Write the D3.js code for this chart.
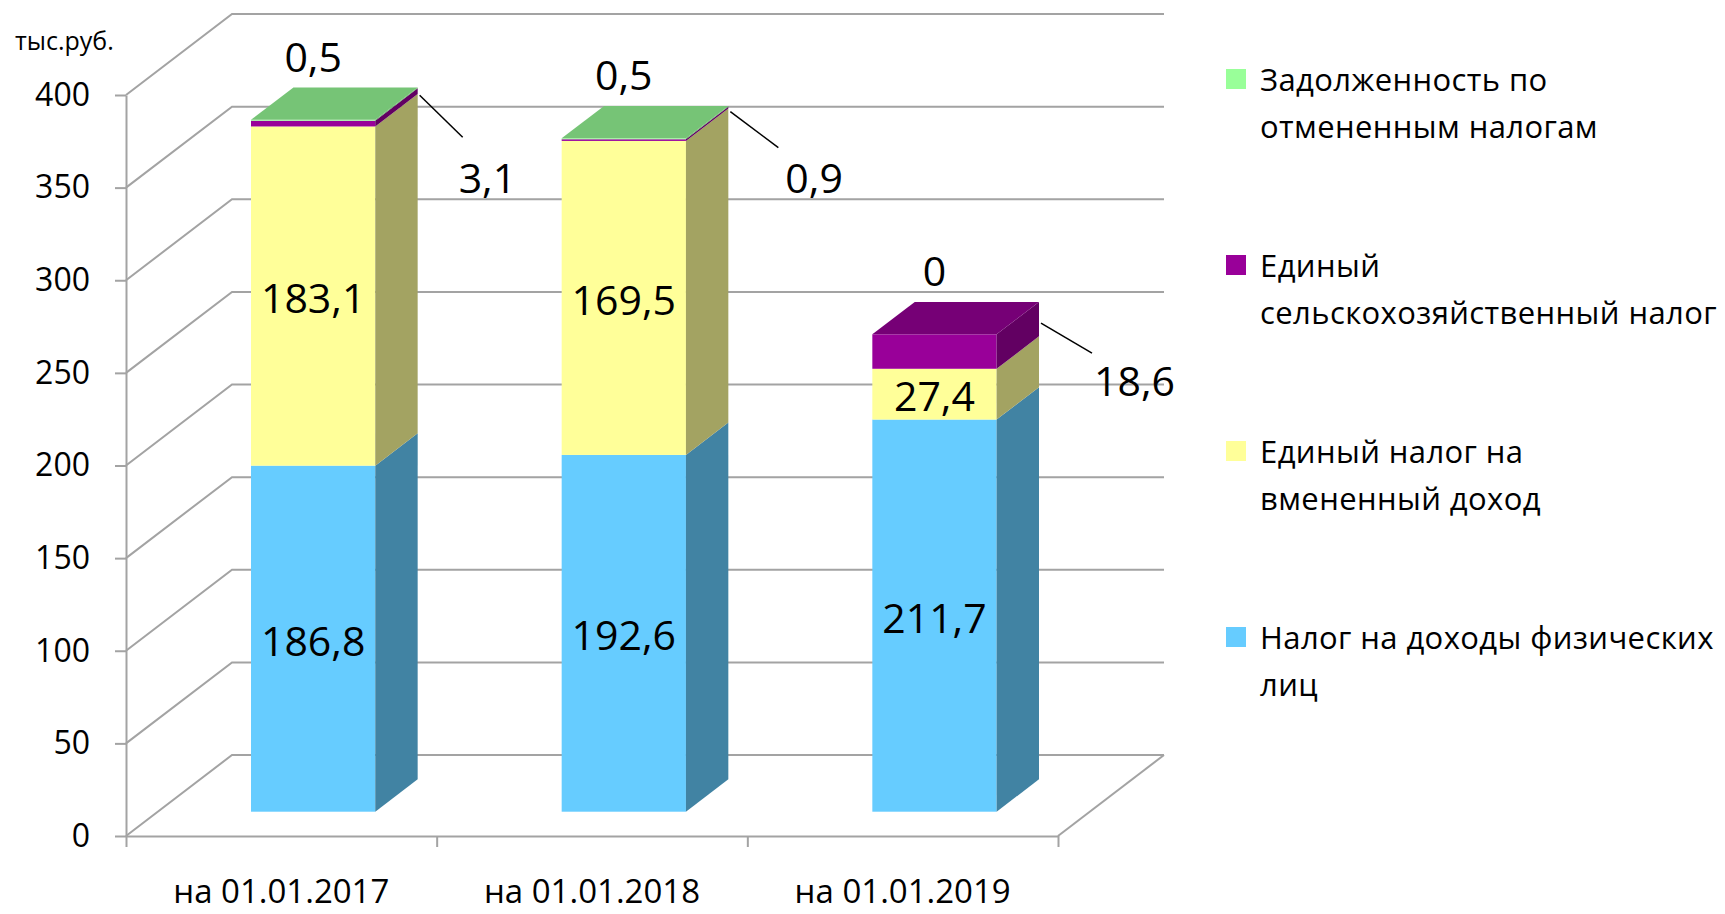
<!DOCTYPE html>
<html>
<head>
<meta charset="utf-8">
<script src="https://cdn.jsdelivr.net/npm/d3@7"></script>
<style>
  body { margin: 0; background: #fff; }
  svg { display: block; font-family: "Open Sans", "DejaVu Sans", sans-serif; }
</style>
</head>
<body>
<svg id="chart" width="1725" height="914"></svg>
<script>
// data
const categories = ["на 01.01.2017", "на 01.01.2018", "на 01.01.2019"];
const seriesKeys = ["ndfl", "envd", "eshn", "debt"];
const ndfl = [186.8, 192.6, 211.7];  // Налог на доходы физических лиц
const envd = [183.1, 169.5, 27.4];   // Единый налог на вмененный доход
const eshn = [3.1, 0.9, 18.6];       // Единый сельскохозяйственный налог
const debt = [0.5, 0.5, 0];          // Задолженность по отмененным налогам
const seriesColors = ["#66ccff", "#ffff99", "#990099", "#99ff99"];
const yTicks = [0, 50, 100, 150, 200, 250, 300, 350, 400];
const unitLabel = "тыс.руб.";
// legend goes top -> bottom in reverse series order
const legendLines = [
	["Задолженность по", "отмененным налогам"],
	["Единый", "сельскохозяйственный налог"],
	["Единый налог на", "вмененный доход"],
	["Налог на доходы физических", "лиц"]
];

const rows = categories.map((c, i) => ({ cat: c, ndfl: ndfl[i], envd: envd[i], eshn: eshn[i], debt: debt[i] }));
const stacked = d3.stack().keys(seriesKeys)(rows);

// layout
const svg = d3.select("#chart");
const y = d3.scaleLinear().domain([0, 400]).range([836, 95]);
const x = d3.scaleBand().domain(categories).range([126, 1058]).paddingInner(0.6).paddingOuter(0.3);
const xEdge = d3.scaleLinear().domain([0, categories.length]).range([126, 1058]);
const depth = [106, -81];             // full wall depth
const fz = 0.3, bz = 0.4;            // bar front position & bar depth (fractions of wall depth)
const fx = depth[0] * fz, fy = depth[1] * fz;
const dx = depth[0] * bz, dy = depth[1] * bz;
const gridColor = "#a3a3a3";

const fmt = v => v === 0 ? "0" : d3.format(".1f")(v).replace(".", ",");
const shade = (c, f) => { const r = d3.rgb(c); return d3.rgb(r.r * f, r.g * f, r.b * f).formatHex(); };

// walls: left wall diagonals + back wall lines
const walls = svg.append("g").attr("fill", "none").attr("stroke", gridColor).attr("stroke-width", 2);
walls.selectAll("path.grid").data(yTicks).join("path")
	.attr("class", "grid")
	.attr("d", v => d3.line()([[126, y(v)], [126 + depth[0], y(v) + depth[1]], [1058 + depth[0], y(v) + depth[1]]]));
walls.append("path")
	.attr("d", d3.line()([[1058, y(0)], [1058 + depth[0], y(0) + depth[1]]]));

// axes
const yAxis = svg.append("g")
	.attr("transform", "translate(126,0)")
	.call(d3.axisLeft(y).tickValues(yTicks).tickSize(11).tickSizeOuter(0).tickPadding(25).tickFormat(d3.format("d")));
yAxis.selectAll("path, line").attr("stroke", gridColor).attr("stroke-width", 2);
yAxis.selectAll("text").attr("font-size", 32).attr("font-family", "Open Sans").attr("fill", "#000");

const xAxis = svg.append("g")
	.attr("transform", `translate(0,${y(0)})`)
	.call(d3.axisBottom(xEdge).tickValues(d3.range(categories.length + 1)).tickSize(11).tickSizeOuter(0).tickFormat(""));
xAxis.selectAll("path, line").attr("stroke", gridColor).attr("stroke-width", 2);

svg.append("g").selectAll("text").data(categories).join("text")
	.attr("x", c => x(c) + x.bandwidth() / 2)
	.attr("y", 903)
	.attr("text-anchor", "middle")
	.attr("font-size", 33)
	.text(c => c);

svg.append("text").attr("x", 15).attr("y", 50).attr("font-size", 25).text(unitLabel);

// bars
const bars = svg.append("g");
categories.forEach((cat, i) => {
	const x0 = x(cat) + fx, x1 = x0 + x.bandwidth();
	const g = bars.append("g");
	let topSeries = -1;
	stacked.forEach((s, k) => {
		const [v0, v1] = s[i];
		if (v1 - v0 <= 0) return;
		topSeries = k;
		const yb = y(v0) + fy, yt = y(v1) + fy;
		g.append("rect")
			.attr("x", x0).attr("y", yt).attr("width", x1 - x0).attr("height", yb - yt)
			.attr("fill", seriesColors[k]);
		g.append("polygon")
			.attr("points", [[x1, yb], [x1 + dx, yb + dy], [x1 + dx, yt + dy], [x1, yt]].join(" "))
			.attr("fill", shade(seriesColors[k], 0.64));
	});
	const topVal = stacked[stacked.length - 1][i][1];
	const yt = y(topVal) + fy;
	g.append("polygon")
		.attr("points", [[x0, yt], [x1, yt], [x1 + dx, yt + dy], [x0 + dx, yt + dy]].join(" "))
		.attr("fill", shade(seriesColors[topSeries], 0.77));
});

// data labels
const labels = svg.append("g").attr("font-size", 41).attr("fill", "#000");
// callout placement for the small series: leader end and text (left, baseline), relative to anchor
const calloutOffsets = [
	{ end: [43, 42], text: [39, 98] },
	{ end: [48, 36], text: [55, 81] },
	{ end: [51, 30], text: [53, 73] }
];
categories.forEach((cat, i) => {
	const cx = x(cat) + fx + x.bandwidth() / 2;
	const x1 = x(cat) + fx + x.bandwidth();
	stacked.forEach((s, k) => {
		const [v0, v1] = s[i];
		const val = v1 - v0;
		const key = seriesKeys[k];
		if (key === "ndfl" || key === "envd") {
			labels.append("text")
				.attr("x", cx).attr("y", (y(v0) + y(v1)) / 2 + fy + 17)
				.attr("text-anchor", "middle").text(fmt(val));
		} else if (key === "debt") {
			labels.append("text")
				.attr("x", cx).attr("y", y(v1) + fy - 48)
				.attr("text-anchor", "middle").text(fmt(val));
		} else {
			const ax = x1 + dx + 2, ay = (y(v0) + y(v1)) / 2 + fy + dy + 4;
			const o = calloutOffsets[i];
			labels.append("line")
				.attr("x1", ax).attr("y1", ay)
				.attr("x2", ax + o.end[0]).attr("y2", ay + o.end[1])
				.attr("stroke", "#000").attr("stroke-width", 1.5);
			labels.append("text")
				.attr("x", ax + o.text[0]).attr("y", ay + o.text[1])
				.text(fmt(val));
		}
	});
});

// legend
const legendColors = seriesColors.slice().reverse();
const legend = svg.append("g").attr("font-size", 31).attr("letter-spacing", 0.4);
legendLines.forEach((lines, j) => {
	const cy = 79 + j * 186;
	legend.append("rect")
		.attr("x", 1226).attr("y", cy - 10).attr("width", 20).attr("height", 20)
		.attr("fill", legendColors[j]);
	lines.forEach((t, l) => {
		legend.append("text")
			.attr("x", 1260).attr("y", cy + 12 + l * 47)
			.text(t);
	});
});
</script>
</body>
</html>
